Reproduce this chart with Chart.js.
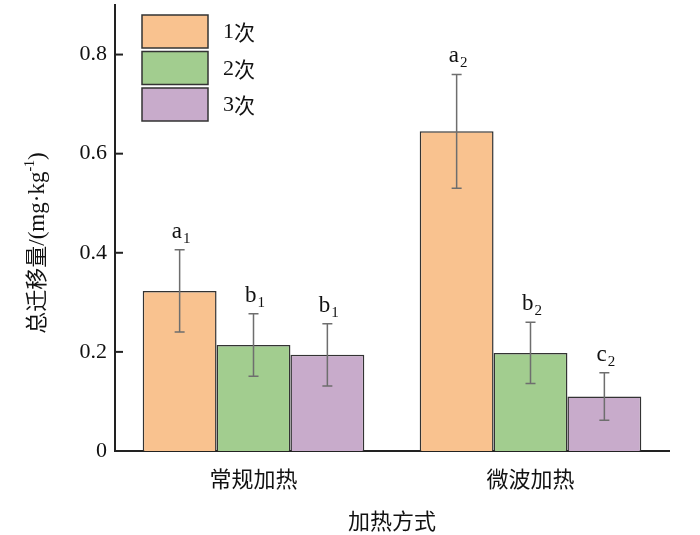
<!DOCTYPE html>
<html>
<head>
<meta charset="utf-8">
<script src="https://cdn.jsdelivr.net/npm/chart.js@4/dist/chart.umd.min.js"></script>
<style>
  html, body { margin: 0; padding: 0; background: #fff; }
  #wrap { width: 700px; height: 535px; }
</style>
</head>
<body>
<div id="wrap"><canvas id="migration-bar-chart"></canvas></div>
<script>
const categories = ["常规加热", "微波加热"];
const seriesNames = ["1次", "2次", "3次"];

const once = [0.323, 0.645];
const onceErr = [0.083, 0.115];
const onceSig = ["a1", "a2"];

const twice = [0.214, 0.198];
const twiceErr = [0.063, 0.062];
const twiceSig = ["b1", "b2"];

const thrice = [0.194, 0.110];
const thriceErr = [0.063, 0.048];
const thriceSig = ["b1", "c2"];

const yTicks = [0, 0.2, 0.4, 0.6, 0.8];

const fills = ["#f9c28f", "#a2cd8f", "#c8abcb"];
const serif = "'Liberation Serif', 'Noto Serif CJK SC', 'Noto Sans CJK SC', serif";
const cjk = "'Noto Sans CJK SC', 'Liberation Serif', sans-serif";

const errors = [onceErr, twiceErr, thriceErr];
const sigs = [onceSig, twiceSig, thriceSig];

// error bars, letters, inner ticks, legend and y title
const extras = {
  id: "extras",
  afterDatasetsDraw(chart) {
    const ctx = chart.ctx;
    const y = chart.scales.y;
    const area = chart.chartArea;
    ctx.save();

    // inner tick marks on y axis
    ctx.strokeStyle = "#222";
    ctx.lineWidth = 2;
    yTicks.forEach(v => {
      const py = y.getPixelForValue(v);
      ctx.beginPath();
      ctx.moveTo(area.left, py);
      ctx.lineTo(area.left + 8, py);
      ctx.stroke();
    });

    chart.data.datasets.forEach((ds, i) => {
      const meta = chart.getDatasetMeta(i);
      meta.data.forEach((bar, j) => {
        const v = ds.data[j];
        const e = errors[i][j];
        const top = y.getPixelForValue(v + e);
        const bot = y.getPixelForValue(v - e);
        ctx.strokeStyle = "#6e6e6e";
        ctx.lineWidth = 1.5;
        ctx.beginPath();
        ctx.moveTo(bar.x, top); ctx.lineTo(bar.x, bot);
        ctx.moveTo(bar.x - 5, top); ctx.lineTo(bar.x + 5, top);
        ctx.moveTo(bar.x - 5, bot); ctx.lineTo(bar.x + 5, bot);
        ctx.stroke();

        // significance letter with subscript
        const s = sigs[i][j];
        ctx.fillStyle = "#111";
        ctx.textBaseline = "alphabetic";
        ctx.textAlign = "left";
        ctx.font = "23px " + serif;
        const w1 = ctx.measureText(s[0]).width;
        ctx.font = "15px " + serif;
        const w2 = ctx.measureText(s.slice(1)).width;
        const sx = bar.x - (w1 + w2) / 2 + 1;
        const base = top - 12;
        ctx.font = "23px " + serif;
        ctx.fillText(s[0], sx, base);
        ctx.font = "15px " + serif;
        ctx.fillText(s.slice(1), sx + w1 + 1, base + 5);
      });
    });

    // legend
    chart.data.datasets.forEach((ds, i) => {
      const bx = 142, by = 15 + i * 36.5, bw = 66, bh = 33;
      ctx.fillStyle = ds.backgroundColor;
      ctx.fillRect(bx, by, bw, bh);
      ctx.strokeStyle = "#333";
      ctx.lineWidth = 1.5;
      ctx.strokeRect(bx, by, bw, bh);
      ctx.fillStyle = "#111";
      ctx.textBaseline = "middle";
      ctx.textAlign = "left";
      ctx.font = "22px " + serif;
      const num = ds.label.slice(0, 1);
      ctx.fillText(num, 223, by + bh / 2 + 1);
      const nw = ctx.measureText(num).width;
      ctx.font = "21px " + cjk;
      ctx.fillText(ds.label.slice(1), 223 + nw, by + bh / 2 + 1);
    });

    // y axis title
    ctx.translate(36, 243);
    ctx.rotate(-Math.PI / 2);
    const p1 = "总迁移量", p2 = "/(mg·kg", p3 = "-1", p4 = ")";
    ctx.font = "22px " + cjk;
    const a = ctx.measureText(p1).width;
    ctx.font = "23px " + serif;
    const b = ctx.measureText(p2).width;
    const d = ctx.measureText(p4).width;
    ctx.font = "14px " + serif;
    const c = ctx.measureText(p3).width;
    let x0 = -(a + b + c + d) / 2;
    ctx.fillStyle = "#111";
    ctx.textBaseline = "alphabetic";
    ctx.textAlign = "left";
    ctx.font = "22px " + cjk;
    ctx.fillText(p1, x0, 8); x0 += a;
    ctx.font = "23px " + serif;
    ctx.fillText(p2, x0, 8); x0 += b;
    ctx.font = "14px " + serif;
    ctx.fillText(p3, x0, -2); x0 += c;
    ctx.font = "23px " + serif;
    ctx.fillText(p4, x0, 8);

    ctx.restore();
  }
};

const bar_ctx = document.getElementById("migration-bar-chart").getContext("2d");

new Chart(bar_ctx, {
  type: "bar",
  data: {
    labels: categories,
    datasets: [
      { label: seriesNames[0], data: once, backgroundColor: fills[0] },
      { label: seriesNames[1], data: twice, backgroundColor: fills[1] },
      { label: seriesNames[2], data: thrice, backgroundColor: fills[2] }
    ].map(ds => Object.assign(ds, {
      borderColor: "#333",
      borderWidth: 1.5,
      barPercentage: 1.0,
      categoryPercentage: 0.8
    }))
  },
  options: {
    responsive: true,
    maintainAspectRatio: false,
    animation: false,
    layout: { padding: { left: 0, right: 31, top: 5, bottom: 0 } },
    plugins: {
      legend: { display: false },
      tooltip: { enabled: false }
    },
    scales: {
      x: {
        grid: { display: false, drawTicks: false },
        border: { display: true, color: "#222", width: 2 },
        ticks: { color: "#111", padding: 14, font: { family: cjk, size: 22 } },
        title: {
          display: true,
          text: "加热方式",
          color: "#111",
          font: { family: cjk, size: 22 },
          padding: { top: 0, bottom: 1 }
        },
        afterFit(scale) {
          scale.height = 84;
          scale.paddingLeft = 0;
          scale.paddingRight = 0;
        }
      },
      y: {
        min: 0,
        max: 0.9,
        grid: { display: false, drawTicks: false },
        border: { display: true, color: "#222", width: 2 },
        afterBuildTicks(scale) { scale.ticks = yTicks.map(v => ({ value: v })); },
        ticks: {
          color: "#111",
          padding: 8,
          font: { family: serif, size: 22 },
          callback: v => (v === 0 ? "0" : v.toFixed(1))
        },
        afterFit(scale) {
          scale.width = 115;
          scale.paddingTop = 0;
          scale.paddingBottom = 0;
        }
      }
    }
  },
  plugins: [extras]
});
</script>
</body>
</html>
